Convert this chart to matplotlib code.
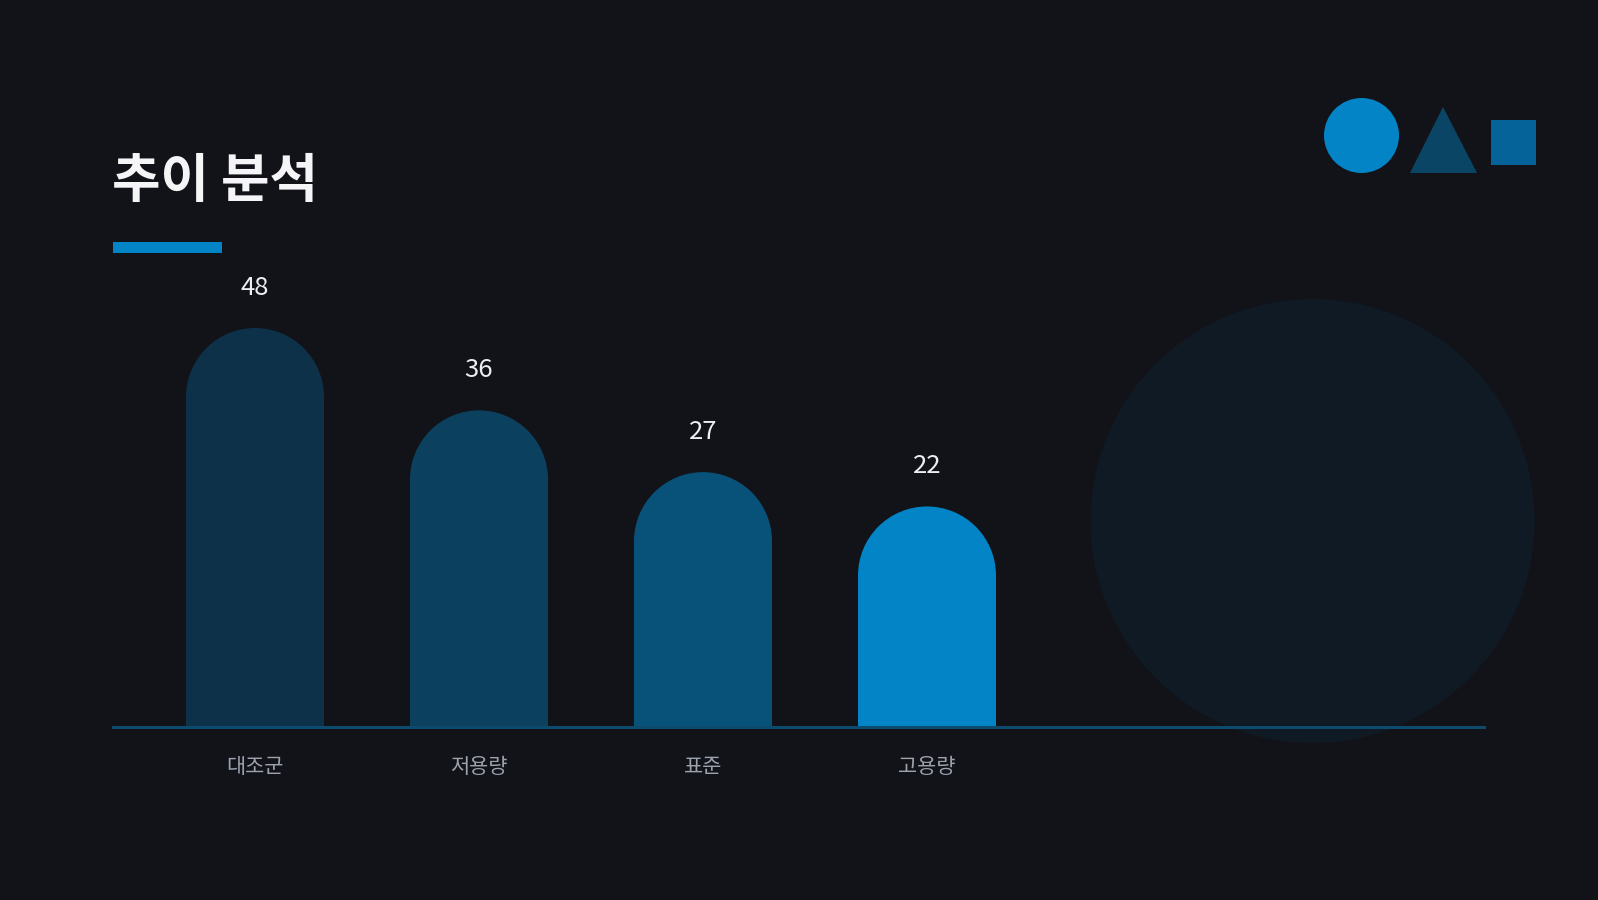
import matplotlib
matplotlib.use("Agg")
import matplotlib.pyplot as plt
from matplotlib.patches import Rectangle, Ellipse, Circle, Polygon
import numpy as np

plt.rcParams['font.family'] = ['Noto Sans CJK KR', 'DejaVu Sans']

# data
categories = ['대조군', '저용량', '표준', '고용량']
values = [48, 36, 27, 22]
bar_colors = ['#0d3149', '#0b405f', '#08527a', '#0284c7']
title = '추이 분석'

BG = '#121318'
W, H = 1598, 900
DPI = 100

fig = plt.figure(figsize=(W / DPI, H / DPI), dpi=DPI, facecolor=BG)

# decoration layer in pixel coords (y downwards)
deco = fig.add_axes([0, 0, 1, 1], zorder=0)
deco.set_xlim(0, W)
deco.set_ylim(H, 0)
deco.axis('off')
deco.set_facecolor(BG)
deco.add_patch(Circle((1312.5, 521), 222, color='#0f1a24', lw=0))
deco.add_patch(Circle((1361.5, 135.5), 37.5, color='#0284c7', lw=0))
deco.add_patch(Polygon([(1443, 107), (1410, 173), (1477, 173)], closed=True,
                       color='#0b4566', lw=0))
deco.add_patch(Rectangle((1491, 120), 45, 45, color='#06639a', lw=0))
deco.add_patch(Rectangle((113, 242), 109, 11, color='#0284c7', lw=0))

fig.text(112 / W, 1 - 181 / H, title, color='#f5f5f7', fontsize=38,
         fontweight='bold', ha='left', va='center')

# chart axes: baseline at pixel y=726.5, x from 113 to 1484
base_px = 726.5
top_px = 250
ax_left, ax_right = 113, 1484
ax = fig.add_axes([ax_left / W, (H - base_px) / H,
                   (ax_right - ax_left) / W, (base_px - top_px) / H], zorder=1)
ax.patch.set_alpha(0)

spacing = 224.0
first_center = 255.0
x = np.arange(len(categories))
ax.set_xlim((ax_left - first_center) / spacing, (ax_right - first_center) / spacing)
px_per_unit = 6.865
ax.set_ylim(0, (base_px - top_px) / px_per_unit)

bar_w = 138 / spacing
r_data = (138 / 2) / px_per_unit  # cap radius in y data units

for xi, v, c in zip(x, values, bar_colors):
    ax.add_patch(Rectangle((xi - bar_w / 2, 0), bar_w, v, color=c, lw=0, zorder=2))
    ax.add_patch(Ellipse((xi, v), bar_w, 2 * r_data, color=c, lw=0, zorder=2))
    ax.annotate(str(v), xy=(xi, v + r_data), xytext=(0, 40 * 72 / DPI),
                textcoords='offset points', ha='center', va='center',
                color='#eceef2', fontsize=18.5, fontweight='medium')

ax.axhline(0, color='#0c4a6e', lw=3 * 72 / DPI, zorder=3, clip_on=False)

ax.set_xticks(x)
ax.set_xticklabels(categories, color='#9ca3af', fontsize=15)
ax.tick_params(axis='x', length=0, pad=21)
ax.set_yticks([])
for s in ax.spines.values():
    s.set_visible(False)

fig.savefig('out.png', dpi=DPI, facecolor=BG)
